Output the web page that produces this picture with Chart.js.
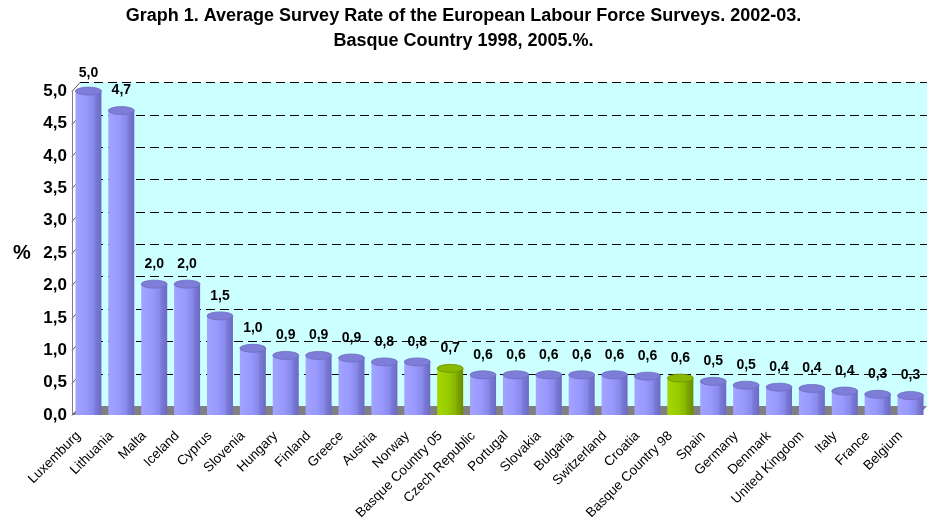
<!DOCTYPE html>
<html>
<head>
<meta charset="utf-8">
<script src="https://cdn.jsdelivr.net/npm/chart.js@4"></script>
<style>
  html, body { margin: 0; padding: 0; background: #fff; }
  #wrap { width: 927px; height: 523px; }
</style>
</head>
<body>
<div id="wrap"><canvas id="chart_div"></canvas></div>
<script>
// data
var countries = ['Luxemburg', 'Lithuania', 'Malta', 'Iceland', 'Cyprus', 'Slovenia', 'Hungary',
  'Finland', 'Greece', 'Austria', 'Norway', 'Basque Country 05', 'Czech Republic', 'Portugal',
  'Slovakia', 'Bulgaria', 'Switzerland', 'Croatia', 'Basque Country 98', 'Spain', 'Germany',
  'Denmark', 'United Kingdom', 'Italy', 'France', 'Belgium'];
var rates = [5.0, 4.7, 2.02, 2.02, 1.53, 1.03, 0.92, 0.92, 0.88, 0.82, 0.82, 0.72, 0.62, 0.62,
  0.62, 0.62, 0.62, 0.6, 0.57, 0.52, 0.46, 0.43, 0.41, 0.37, 0.32, 0.3];
var highlighted = ['Basque Country 05', 'Basque Country 98'];
var yTicks = [0, 0.5, 1, 1.5, 2, 2.5, 3, 3.5, 4, 4.5, 5];
var titleLines = ['Graph 1. Average Survey Rate of the European Labour Force Surveys. 2002-03.',
  'Basque Country 1998, 2005.%.'];

var DX = 8, DY = 9;      // depth of the fake 3d box
var BAR_PCT = 0.79;

function isGreen(i) { return highlighted.indexOf(countries[i]) >= 0; }

function fmt(v) { return v.toFixed(1).replace('.', ','); }

// cylinder gradient on the front face, placed with the x scale
function barFill(ctx) {
  var chart = ctx.chart, i = ctx.dataIndex;
  var green = isGreen(i);
  var xs = chart.scales && chart.scales.x;
  if (!xs || !chart.chartArea || ctx.type !== 'data') return green ? '#99CC00' : '#9999FF';
  var cx = xs.getPixelForValue(i);
  var w = (chart.chartArea.right - chart.chartArea.left) / countries.length * BAR_PCT;
  var g = chart.ctx.createLinearGradient(cx - w / 2, 0, cx + w / 2, 0);
  if (green) {
    g.addColorStop(0, '#A6D600');
    g.addColorStop(0.4, '#99CC00');
    g.addColorStop(0.72, '#88B400');
    g.addColorStop(0.75, '#7FA800');
    g.addColorStop(1, '#6A8C00');
  } else {
    g.addColorStop(0, '#A3A3FF');
    g.addColorStop(0.4, '#9999FF');
    g.addColorStop(0.72, '#8888EA');
    g.addColorStop(0.75, '#7D7DDA');
    g.addColorStop(1, '#6A6AC4');
  }
  return g;
}

var boxPlugin = {
  id: 'box3d',
  beforeDatasetsDraw: function(chart) {
    var c = chart.ctx, a = chart.chartArea, y = chart.scales.y;
    var top = y.getPixelForValue(5), bot = y.getPixelForValue(0);
    c.save();
    // back wall
    c.fillStyle = '#CCFFFF';
    c.fillRect(a.left + DX, top - DY, a.right - a.left - DX, bot - top);
    // floor
    c.fillStyle = '#808080';
    c.beginPath();
    c.moveTo(a.left, bot);
    c.lineTo(a.left + DX, bot - DY);
    c.lineTo(a.right, bot - DY);
    c.lineTo(a.right - DX, bot);
    c.closePath();
    c.fill();
    // dashed grid on the back wall and diagonal ticks on the side
    c.lineWidth = 1;
    yTicks.forEach(function(t) {
      var py = Math.round(y.getPixelForValue(t)) + 0.5;
      if (t > 0) {
        c.strokeStyle = '#000';
        c.setLineDash([9, 5]);
        c.beginPath();
        c.moveTo(a.left + DX, py - DY);
        c.lineTo(a.right, py - DY);
        c.stroke();
      }
      c.setLineDash([]);
      c.strokeStyle = '#555';
      c.beginPath();
      c.moveTo(a.left, py);
      c.lineTo(a.left + DX, py - DY);
      c.stroke();
    });
    c.strokeStyle = '#808080';
    c.beginPath();
    c.moveTo(a.left + 0.5, top);
    c.lineTo(a.left + 0.5, bot);
    c.stroke();
    c.restore();
  },
  afterDatasetsDraw: function(chart) {
    var c = chart.ctx, meta = chart.getDatasetMeta(0);
    c.save();
    meta.data.forEach(function(el, i) {
      var rx = el.width / 2, ry = 4;
      // top cap
      c.fillStyle = isGreen(i) ? '#88B800' : '#7E7ED8';
      c.beginPath();
      c.ellipse(el.x, el.y, rx, ry, 0, 0, Math.PI * 2);
      c.fill();
      c.strokeStyle = isGreen(i) ? '#6E9000' : '#6C6CC0';
      c.lineWidth = 0.8;
      c.stroke();
      // value label
      c.fillStyle = '#000';
      c.font = 'bold 14px "Liberation Sans", Arial, sans-serif';
      c.textAlign = 'center';
      c.textBaseline = 'middle';
      c.fillText(fmt(rates[i]), el.x, Math.max(el.y - 20, 73));
    });
    // axis unit
    var a = chart.chartArea;
    c.font = 'bold 20px "Liberation Sans", Arial, sans-serif';
    c.fillText('%', 22, (a.top + a.bottom) / 2);
    c.restore();
  }
};

new Chart(document.getElementById('chart_div'), {
  type: 'bar',
  data: {
    labels: countries,
    datasets: [{
      data: rates,
      backgroundColor: barFill,
      borderWidth: 0,
      categoryPercentage: 1,
      barPercentage: BAR_PCT
    }]
  },
  options: {
    responsive: true,
    maintainAspectRatio: false,
    animation: false,
    devicePixelRatio: 1,
    plugins: {
      legend: { display: false },
      tooltip: { enabled: false },
      title: {
        display: true,
        text: titleLines,
        color: '#000',
        font: { family: '"Liberation Sans", Arial, sans-serif', size: 18, weight: 'bold', lineHeight: 1.42 },
        padding: { top: 3, bottom: 37 }
      }
    },
    scales: {
      x: {
        grid: { display: false },
        border: { display: false },
        ticks: {
          color: '#000',
          font: { family: '"Liberation Sans", Arial, sans-serif', size: 13.5 },
          minRotation: 45,
          maxRotation: 45,
          autoSkip: false,
          labelOffset: -10,
          padding: 5
        },
        afterFit: function(s) { s.height = 108; }
      },
      y: {
        min: 0,
        max: 5,
        afterBuildTicks: function(s) { s.ticks = yTicks.map(function(v) { return { value: v }; }); },
        grid: { display: false, drawTicks: false },
        border: { display: false },
        ticks: {
          color: '#000',
          padding: 5,
          font: { family: '"Liberation Sans", Arial, sans-serif', size: 17, weight: 'bold' },
          callback: function(v) { return fmt(v); }
        },
        afterFit: function(s) { s.width = 72; }
      }
    }
  },
  plugins: [boxPlugin]
});
</script>
</body>
</html>
